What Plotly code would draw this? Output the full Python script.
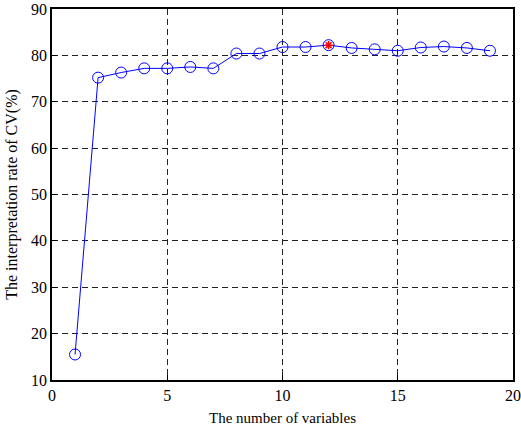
import plotly.graph_objects as go

n_vars = list(range(1, 20))
rate = [15.5, 75.2, 76.3, 77.2, 77.2, 77.5, 77.2, 80.4, 80.4, 81.8,
        81.8, 82.2, 81.6, 81.3, 81.0, 81.7, 81.9, 81.6, 81.0]
best_x = [12]
best_y = [82.2]

font = "Liberation Serif"
fig = go.Figure()
fig.add_trace(go.Scatter(x=n_vars, y=rate, mode="lines+markers",
                         line=dict(color="#0000FF", width=1),
                         marker=dict(symbol="circle-open", size=11, color="#0000FF", line=dict(width=1)),
                         showlegend=False))
fig.add_trace(go.Scatter(x=best_x, y=best_y, mode="markers",
                         marker=dict(symbol="asterisk-open", size=7, color="#FF0000", line=dict(width=1.5, color="#FF0000")),
                         showlegend=False))
axis_common = dict(showline=True, linecolor="black", linewidth=1.5, mirror=True,
                   showgrid=True, gridcolor="#222222", griddash="6px,4px", gridwidth=1,
                   zeroline=False, ticks="inside", ticklen=5, tickcolor="black",
                   automargin=False,
                   tickfont=dict(family=font, size=16, color="black"))
fig.update_xaxes(range=[0, 20], tickvals=[0, 5, 10, 15, 20],
                 title=dict(text="The number of variables", font=dict(family=font, size=15, color="black"), standoff=10),
                 **axis_common)
fig.update_yaxes(range=[10, 90], tickvals=[10, 20, 30, 40, 50, 60, 70, 80, 90],
                 title=dict(text="The interpretation rate of CV(%)", font=dict(family=font, size=16, color="black"), standoff=9),
                 **axis_common)
fig.update_layout(width=521, height=430, margin=dict(l=52, r=8, t=9, b=50),
                  plot_bgcolor="white", paper_bgcolor="white")
fig.write_html("out.html")
